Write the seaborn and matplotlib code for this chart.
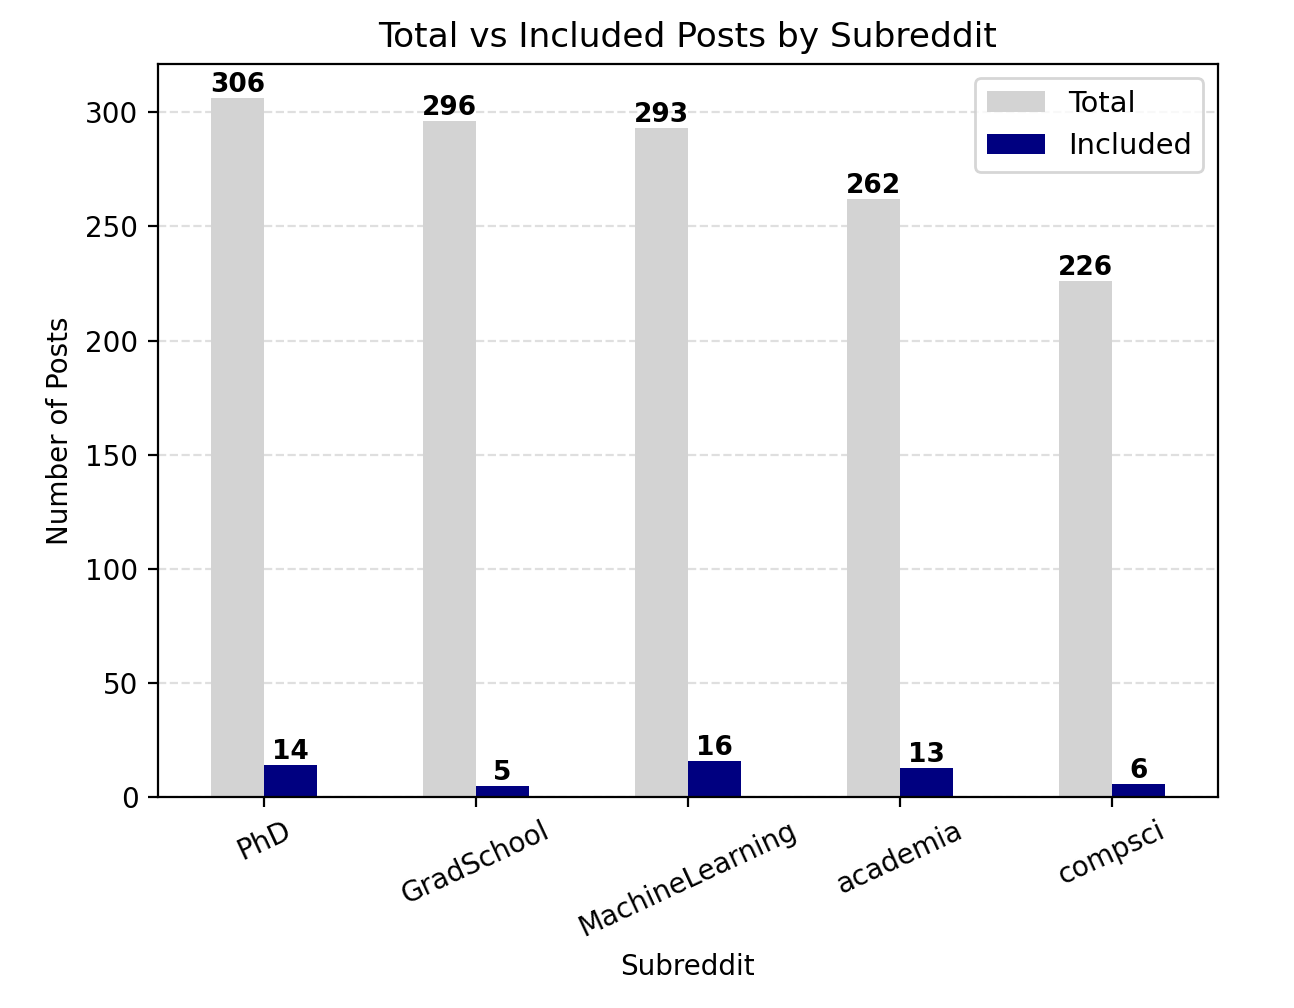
import pandas as pd
import seaborn as sns
import matplotlib.pyplot as plt

subreddits = ["PhD", "GradSchool", "MachineLearning", "academia", "compsci"]
total_posts = [306, 296, 293, 262, 226]
included_posts = [14, 5, 16, 13, 6]

df = pd.DataFrame({
    "Subreddit": subreddits * 2,
    "Posts": total_posts + included_posts,
    "Type": ["Total"] * len(subreddits) + ["Included"] * len(subreddits),
})

fig = plt.figure(figsize=(6.47, 5.04), dpi=200)
ax = fig.add_axes([0.122, 0.209, 0.819, 0.728])
sns.barplot(data=df, x="Subreddit", y="Posts", hue="Type", order=subreddits,
            hue_order=["Total", "Included"], palette=["lightgray", "navy"],
            width=0.5, saturation=1, ax=ax)

for cont in ax.containers:
    ax.bar_label(cont, fontsize=9.5, fontweight="bold", padding=0)

ax.set_xlim(-0.5, 4.5)
ax.set_ylim(0, 306 * 1.05)
ax.set_title("Total vs Included Posts by Subreddit", fontsize=12.4)
ax.set_xlabel("Subreddit")
ax.set_ylabel("Number of Posts")
ax.tick_params(axis="x", rotation=25)
ax.grid(axis="y", linestyle="--", alpha=0.4)
ax.set_axisbelow(True)
ax.legend(title=None, fontsize=10.4)

fig.savefig("out.png", dpi=200)
